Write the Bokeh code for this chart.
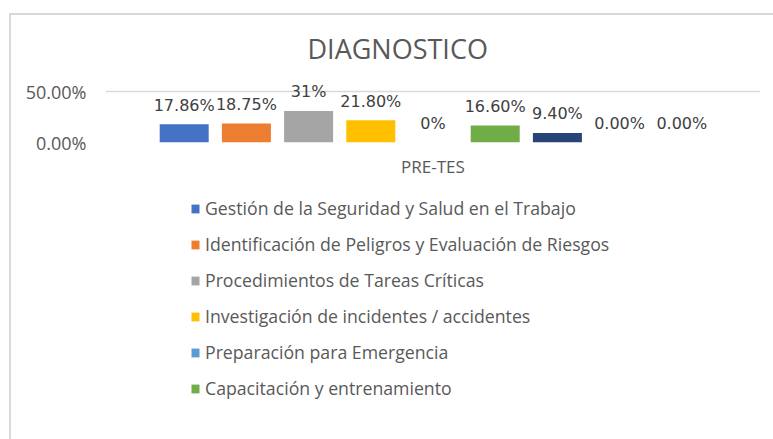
from bokeh.plotting import figure
from bokeh.layouts import column
from bokeh.models import (ColumnDataSource, FactorRange, Range1d, LabelSet, Legend,
                          LegendItem, FixedTicker, NumeralTickFormatter)
from bokeh.core.properties import value
from bokeh.transform import dodge
from bokeh.embed import file_html
from bokeh.resources import INLINE

# ---------------- data ----------------
category = "PRE-TES"
legend_names = [
    "Gestión de la Seguridad y Salud en el Trabajo",
    "Identificación de Peligros y Evaluación de Riesgos",
    "Procedimientos de Tareas Críticas",
    "Investigación de incidentes / accidentes",
    "Preparación para Emergencia",
    "Capacitación y entrenamiento",
]
values = [0.1786, 0.1875, 0.31, 0.218, 0.0, 0.166, 0.094, 0.0, 0.0]
value_labels = ["17.86%", "18.75%", "31%", "21.80%", "0%", "16.60%", "9.40%", "0.00%", "0.00%"]
colors = ["#4472C4", "#ED7D31", "#A5A5A5", "#FFC000", "#5B9BD5",
          "#70AD47", "#264478", "#9E480E", "#636363"]
y_ticks = [0.0, 0.5]

# ---------------- geometry (page px) ----------------
OX, OY = 11, 15          # chart box offset (margin + 2px border)
W = 773 - OX
H_TOTAL = 439 - OY
SPLIT = 180              # page y where the legend strip starts
H1 = SPLIT - OY
H2 = H_TOTAL - H1
FL, FR, FT, FB = 105 - OX, 760 - OX, 75 - OY, 142 - OY

# ---------------- chart figure ----------------
p = figure(width=W, height=H1, x_range=FactorRange(category), y_range=Range1d(0, 0.657),
           output_backend="svg", toolbar_location=None,
           min_border_left=FL, min_border_right=W - FR,
           min_border_top=FT, min_border_bottom=H1 - FB)
p.outline_line_color = None
p.background_fill_color = "white"
p.border_fill_color = "white"

p.title.text = "DIAGNOSTICO"
p.title.align = "left"
p.title.offset = 307 - 105
p.title.standoff = 17
p.title.text_font = "Open Sans"
p.title.text_font_size = "27px"
p.title.text_font_style = "normal"
p.title.text_color = "#595959"

p.yaxis.ticker = FixedTicker(ticks=y_ticks)
p.yaxis.formatter = NumeralTickFormatter(format="0.00%")
p.yaxis.axis_line_color = None
p.yaxis.major_tick_line_color = None
p.yaxis.minor_tick_line_color = None
p.yaxis.major_label_standoff = 13
p.yaxis.major_label_text_font = "Open Sans"
p.yaxis.major_label_text_font_size = "18px"
p.yaxis.major_label_text_color = "#595959"

p.xaxis.axis_line_color = None
p.xaxis.major_tick_line_color = None
p.xaxis.minor_tick_line_color = None
p.xaxis.major_label_standoff = 6
p.xaxis.major_label_text_font = "Open Sans"
p.xaxis.major_label_text_font_size = "17px"
p.xaxis.major_label_text_color = "#595959"

p.xgrid.visible = False
p.ygrid.ticker = FixedTicker(ticks=y_ticks)
p.ygrid.grid_line_color = "#D9D9D9"
p.ygrid.grid_line_width = 1.5

frame_w = FR - FL
step = 62.2 / frame_w
bar_w = 49.0 / frame_w
n = len(values)
for i in range(n):
    off = (i - (n - 1) / 2) * step
    src = ColumnDataSource(dict(x=[category], y=[values[i]], label=[value_labels[i]]))
    p.vbar(x=dodge("x", off, range=p.x_range), top="y", width=bar_w, source=src,
           fill_color=colors[i], line_color=None)
    lbl = LabelSet(x=dodge("x", off, range=p.x_range), y="y", text="label", source=src,
                   y_offset=19, text_align="center", text_baseline="middle",
                   text_font=value("DejaVu Sans"), text_font_size=value("16px"),
                   text_color="#404040")
    p.add_layout(lbl)

# ---------------- legend strip ----------------
p2 = figure(width=W, height=H2, x_range=Range1d(0, 1), y_range=Range1d(0, 1),
            output_backend="svg", toolbar_location=None, title=None,
            x_axis_location=None, y_axis_location=None, min_border=0)
p2.outline_line_color = None
p2.xgrid.visible = False
p2.ygrid.visible = False
p2.background_fill_color = "white"
p2.border_fill_color = "white"

# legend proxies: one swatch per visible legend entry, kept outside the visible range
leg_renderers = []
for i in range(len(legend_names)):
    r = p2.vbar(x=[-5], top=[-5], bottom=[-6], width=0.1, fill_color=colors[i], line_color=None)
    leg_renderers.append(r)

LABEL_H, SPACING = 24, 12
leg_height = len(legend_names) * LABEL_H + (len(legend_names) - 1) * SPACING
leg_top = (208.3 - SPLIT) - LABEL_H / 2
items = [LegendItem(label=legend_names[i], renderers=[leg_renderers[i]])
         for i in range(len(legend_names))]
legend = Legend(items=items, location=(190 - 105, round(H2 - leg_top - leg_height)),
                orientation="vertical",
                glyph_width=10, glyph_height=11, label_height=LABEL_H, spacing=SPACING,
                padding=0, margin=0, label_standoff=5,
                border_line_color=None, background_fill_alpha=0,
                label_text_font="Open Sans", label_text_font_size="17.7px",
                label_text_color="#595959")
p2.add_layout(legend)

layout = column(p, p2, spacing=0)
layout.styles = {"border-left": "2px solid #D9D9D9", "border-top": "2px solid #D9D9D9",
                 "margin-left": "9px", "margin-top": "13px"}

open("out.html", "w").write(file_html(layout, INLINE))
